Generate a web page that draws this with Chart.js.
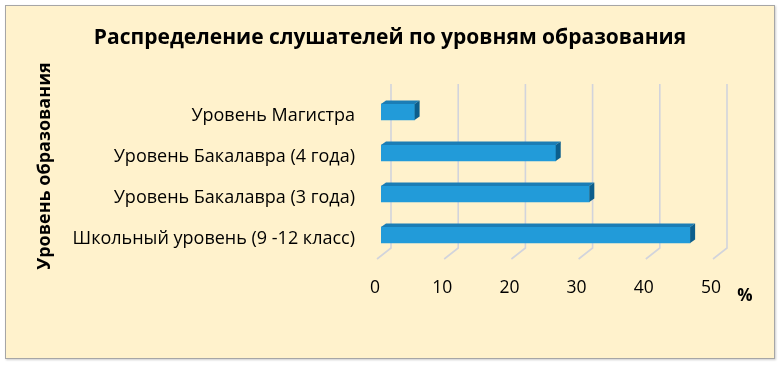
<!DOCTYPE html>
<html><head><meta charset="utf-8">
<script src="https://cdn.jsdelivr.net/npm/chart.js@4"></script>
<style>
html,body{margin:0;padding:0;background:#fff;width:780px;height:366px;overflow:hidden}
#wrap{position:absolute;left:5px;top:5px;width:768px;height:352px;border:1px solid #A6A6A6;background:#FFF2CC;box-shadow:1px 1px 2px rgba(0,0,0,0.2)}
canvas{display:block}
</style></head><body>
<div id="wrap"><canvas id="c" width="768" height="352"></canvas></div>
<script>
const categories = ["Уровень Магистра", "Уровень Бакалавра (4 года)", "Уровень Бакалавра (3 года)", "Школьный уровень (9 -12 класс)"];
const percentValues = [5, 26, 31, 46];
const xTicks = [0, 10, 20, 30, 40, 50];
const chartTitle = "Распределение слушателей по уровням образования";
const yAxisTitle = "Уровень образования";
const xUnit = "%";

const FONT = "'Open Sans', 'DejaVu Sans', sans-serif";
const FRONT = '#229BD9', TOP = '#1B7DB5', SIDE = '#0C5E8C';
const D = 5, DY = 3.5;

const bar3d = {
  id: 'bar3d',
  beforeDatasetsDraw(chart) {
    const ctx = chart.ctx, xs = chart.scales.x, a = chart.chartArea;
    ctx.save();
    ctx.strokeStyle = '#D2D4DC';
    ctx.lineWidth = 1.6;
    xTicks.forEach(v => {
      const x = xs.getPixelForValue(v);
      ctx.beginPath();
      ctx.moveTo(x + 10, a.top - 7.5);
      ctx.lineTo(x + 10, a.bottom - 7.5);
      ctx.lineTo(x - 4, a.bottom + 3.5);
      ctx.stroke();
    });
    ctx.restore();
  },
  afterDatasetsDraw(chart) {
    const ctx = chart.ctx;
    const meta = chart.getDatasetMeta(0);
    ctx.save();
    meta.data.forEach(el => {
      const p = el.getProps(['x', 'y', 'base', 'height'], true);
      const l = p.base, r = p.x, t = p.y - p.height / 2, b = p.y + p.height / 2;
      ctx.fillStyle = TOP;
      ctx.beginPath();
      ctx.moveTo(l, t); ctx.lineTo(l + D, t - DY); ctx.lineTo(r + D, t - DY); ctx.lineTo(r, t); ctx.closePath(); ctx.fill();
      ctx.fillStyle = SIDE;
      ctx.beginPath();
      ctx.moveTo(r, t); ctx.lineTo(r + D, t - DY); ctx.lineTo(r + D, b - DY); ctx.lineTo(r, b); ctx.closePath(); ctx.fill();
    });
    ctx.restore();
  },
  afterDraw(chart) {
    const ctx = chart.ctx;
    ctx.save();
    ctx.fillStyle = '#000';
    ctx.textAlign = 'center';
    ctx.textBaseline = 'middle';
    ctx.font = "bold 21px " + FONT;
    ctx.fillText(chartTitle, 384, 32);
    ctx.font = "bold 17px " + FONT;
    ctx.fillText(xUnit, 739, 290);
    ctx.font = "bold 18px " + FONT;
    ctx.translate(39, 160);
    ctx.rotate(-Math.PI / 2);
    ctx.fillText(yAxisTitle, 0, 0);
    ctx.restore();
  }
};

new Chart(document.getElementById('c'), {
  type: 'bar',
  data: {
    labels: categories,
    datasets: [{ data: percentValues, backgroundColor: FRONT, borderWidth: 0, barThickness: 16 }]
  },
  options: {
    indexAxis: 'y',
    responsive: false,
    animation: false,
    layout: { padding: { top: 85.5, right: 57, left: 0, bottom: 0 } },
    plugins: { legend: { display: false }, tooltip: { enabled: false }, title: { display: false } },
    scales: {
      x: {
        min: 0, max: 50,
        afterBuildTicks: s => { s.ticks = xTicks.map(v => ({ value: v })); },
        afterFit: s => { s.height = 102.5; },
        grid: { display: false, drawTicks: false, tickLength: 0 },
        border: { display: false },
        ticks: { color: '#000', font: { family: FONT, size: 17.5 }, padding: 22, labelOffset: -6, maxRotation: 0 }
      },
      y: {
        afterFit: s => { s.width = 375; },
        grid: { display: false, drawTicks: false, tickLength: 0 },
        border: { display: false },
        ticks: { color: '#000', font: { family: FONT, size: 18 }, padding: 26, labelOffset: 4 }
      }
    }
  },
  plugins: [bar3d]
});
</script>
</body></html>
